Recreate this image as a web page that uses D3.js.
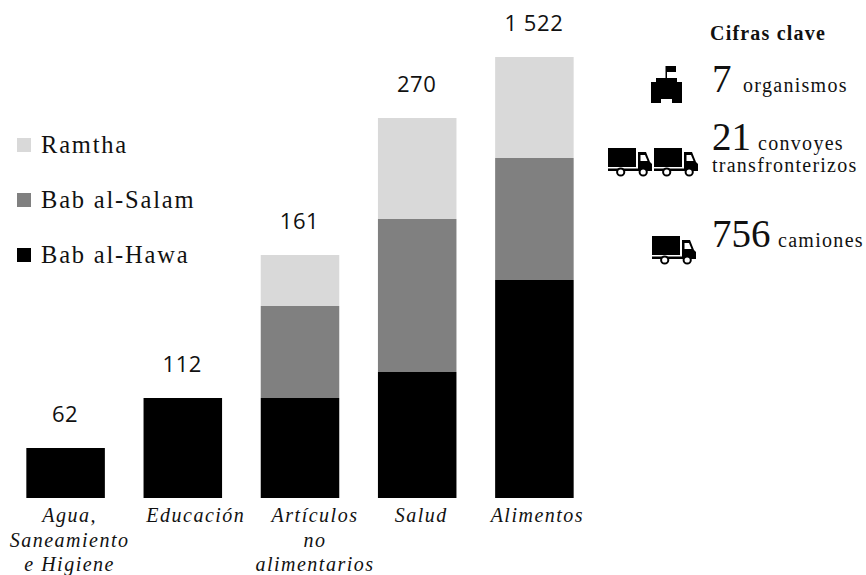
<!DOCTYPE html>
<html><head><meta charset="utf-8">
<script src="https://cdn.jsdelivr.net/npm/d3@7/dist/d3.min.js"></script>
<style>html,body{margin:0;padding:0;background:#fff}svg{display:block}
.s{font-family:"Liberation Serif",serif;fill:#111}
.n{font-family:"Open Sans",sans-serif;fill:#111;font-size:22px;letter-spacing:0.6px;text-anchor:middle}</style>
</head><body><svg id="c" width="866" height="575"></svg>
<script>
const categories=["Agua,|Saneamiento|e Higiene","Educación","Artículos|no|alimentarios","Salud","Alimentos"];
const totalLabels=["62","112","161","270","1 522"];
const seriesNames=["Bab al-Hawa","Bab al-Salam","Ramtha"];
const hawa=[50,100,100,126,218];
const salam=[0,0,92,153,122];
const ramtha=[0,0,51,101,101];
const colors=["#000000","#808080","#d9d9d9"];
const legendOrder=["Ramtha","Bab al-Salam","Bab al-Hawa"];
const svg=d3.select("#c");
const x=d3.scaleBand().domain(categories).range([7,593]).paddingInner(0.33).paddingOuter(0.165);
const y=d3.scaleLinear().domain([0,498]).range([498,0]);
const labelDx=d3.scaleOrdinal().domain(categories).range([4,13,15,4,3]);
const rows=categories.map((c,i)=>({c,a:hawa[i],b:salam[i],d:ramtha[i]}));
const stack=d3.stack().keys(["a","b","d"])(rows);
svg.selectAll("g.l").data(stack).join("g").attr("fill",(d,i)=>colors[i])
 .selectAll("rect").data(d=>d.filter(e=>e[1]>e[0])).join("rect")
 .attr("x",d=>x(d.data.c)).attr("width",x.bandwidth())
 .attr("y",d=>y(d[1])).attr("height",d=>y(d[0])-y(d[1]));
svg.selectAll("text.n").data(rows).join("text").attr("class","n")
 .attr("x",d=>x(d.c)+x.bandwidth()/2-0.5)
 .attr("y",d=>y(d.a+d.b+d.d)-26)
 .text((d,i)=>totalLabels[i]);
const ax=svg.append("g").attr("transform","translate(0,498)").call(d3.axisBottom(x).tickSize(0));
ax.select(".domain").remove();
ax.selectAll("text").attr("class","s").attr("dy",null)
 .style("font-size","20px").style("font-style","italic").style("letter-spacing","1.5px").style("font-family",'"Liberation Serif",serif').attr("fill","#111")
 .each(function(d){const t=d3.select(this).text("");d.split("|").forEach((s,i)=>t.append("tspan").attr("x",labelDx(d)).attr("y",24+i*24.5).text(s));});
const leg=d3.scaleOrdinal().domain(legendOrder).range([145,200,255]);
const lc=d3.scaleOrdinal().domain(seriesNames).range(colors);
legendOrder.forEach(n=>{
 svg.append("rect").attr("x",17).attr("y",leg(n)-7).attr("width",14).attr("height",14).attr("fill",lc(n));
 svg.append("text").attr("class","s").attr("x",41).attr("y",leg(n)+7.5).style("font-size","24.5px").style("letter-spacing","1.8px").text(n);
});
const T=(xx,yy,size,txt,o={})=>svg.append("text").attr("class","s").attr("x",xx).attr("y",yy).style("font-size",size+"px").style("letter-spacing",(o.ls||0)+"px").style("font-weight",o.w||"normal").text(txt);
T(710,40,20,"Cifras clave",{w:"bold",ls:1.2});
T(712,92,39,"7");T(743,92,20,"organismos",{ls:1.3});
T(712,150,39,"21");T(758,150,20,"convoyes",{ls:1.3});T(712,172,20,"transfronterizos",{ls:1.25});
T(712,247,39,"756");T(778,247,20,"camiones",{ls:1.3});
const defs=svg.append("defs");
const tr=defs.append("g").attr("id","truck");
tr.append("path").attr("d","M0 0H28V19H0ZM0 20.500H30V4H38L42 14L44 16V24H0V20.500Z");
tr.append("path").attr("d","M32.500 7V13H39.500L37 7Z").attr("fill","#fff");
tr.append("path").attr("d","M0 23H44V26H0Z").attr("fill","#fff");
[12.7,35.2].forEach(c=>tr.append("circle").attr("cx",c).attr("cy",24).attr("r",3.6).attr("fill","#fff").attr("stroke","#000").attr("stroke-width",2));
[[608,148],[654,148],[652,236]].forEach(p=>svg.append("use").attr("href","#truck").attr("x",p[0]).attr("y",p[1]));
svg.append("path").attr("d","M651 103V82H656V78H665.500V66H676V72H667V78H677V82H682V103H672V99H661V103Z").attr("fill","#000");
</script></body></html>
